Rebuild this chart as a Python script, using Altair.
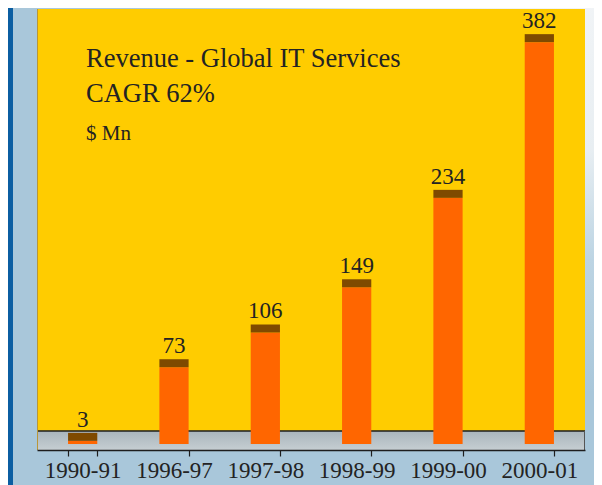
import altair as alt
import pandas as pd

# ---- data ----
periods = ["1990-91", "1996-97", "1997-98", "1998-99", "1999-00", "2000-01"]
revenue = [3, 73, 106, 149, 234, 382]
title_line1 = "Revenue - Global IT Services"
title_line2 = "CAGR 62%"
unit_label = "$ Mn"

df = pd.DataFrame({"period": periods, "revenue": revenue})
one = pd.DataFrame({"k": [0]})

W, H = 548, 441
LEFT, TOP, RIGHT, BOTTOM = 29, 1, 9, 35
FONT = "Liberation Serif"
TXT = "#232323"

x_enc = alt.X(
    "period:N",
    sort=periods,
    scale=alt.Scale(paddingInner=0.68, paddingOuter=0.34),
    axis=alt.Axis(
        title=None,
        labelAngle=0,
        tickBand="extent",
        domainColor="#1e1e1e",
        domainWidth=1.5,
        tickColor="#1e1e1e",
        tickWidth=1.2,
        tickSize=6,
        labelFont=FONT,
        labelFontSize=23,
        labelColor=TXT,
        labelPadding=3,
        zindex=1,
    ),
)
y_scale = alt.Scale(domain=[-5.7, 413.5], nice=False, zero=False)

# ---- decoration ----
sky = alt.Chart(one).mark_rect(
    fill={
        "gradient": "radial",
        "x1": 0.95, "y1": 0.0, "r1": 0.0,
        "x2": 0.95, "y2": 0.0, "r2": 0.75,
        "stops": [
            {"offset": 0.0, "color": "#f4f6f8"},
            {"offset": 0.45, "color": "#e8eef2"},
            {"offset": 0.7, "color": "#bcd4e3"},
            {"offset": 1.0, "color": "#a9c7da"},
        ],
    }
).encode(x=alt.value(-LEFT), x2=alt.value(W + RIGHT), y=alt.value(-TOP), y2=alt.value(H + BOTTOM))

stripe = alt.Chart(one).mark_rect(color="#0b5ea2").encode(
    x=alt.value(-LEFT), x2=alt.value(-LEFT + 5), y=alt.value(-TOP), y2=alt.value(H + BOTTOM)
)

yellow = alt.Chart(one).mark_rect(color="#FFCC00").encode(
    x=alt.value(0), x2=alt.value(W), y=alt.value(0), y2=alt.value(422)
)

floor = alt.Chart(one).mark_rect(
    fill={
        "gradient": "linear",
        "x1": 0, "y1": 0, "x2": 0, "y2": 1,
        "stops": [
            {"offset": 0.0, "color": "#a9b5bc"},
            {"offset": 1.0, "color": "#c6ced2"},
        ],
    }
).encode(x=alt.value(0), x2=alt.value(W), y=alt.value(422), y2=alt.value(H))

floor_line = alt.Chart(one).mark_rule(color="#1e1e1e", strokeWidth=1.5).encode(
    x=alt.value(0), x2=alt.value(W), y=alt.value(422)
)
left_edge = alt.Chart(one).mark_rule(color="#b8963a", strokeWidth=1).encode(
    x=alt.value(0.5), y=alt.value(0), y2=alt.value(H)
)
right_edge = alt.Chart(one).mark_rule(color="#555555", strokeWidth=1).encode(
    x=alt.value(W - 0.5), y=alt.value(422), y2=alt.value(H)
)

# ---- bars ----
base = alt.Chart(df).transform_calculate(cap="datum.revenue + 7.6")

bars = base.mark_bar(color="#FF6600").encode(
    x=x_enc,
    y=alt.Y("revenue:Q", scale=y_scale, axis=None),
    y2=alt.datum(0),
)
caps = base.mark_bar(color="#7F4A00").encode(
    x=x_enc,
    y=alt.Y("revenue:Q", scale=y_scale, axis=None),
    y2=alt.Y2("cap:Q"),
)
labels = base.mark_text(
    dy=-6, baseline="alphabetic", font=FONT, fontSize=23, color=TXT
).encode(
    x=x_enc,
    y=alt.Y("cap:Q", scale=y_scale, axis=None),
    text="revenue:Q",
)

# ---- titles inside the plot ----
t1 = alt.Chart(one).mark_text(
    align="left", baseline="alphabetic", font=FONT, fontSize=26.5, color=TXT
).encode(x=alt.value(49), y=alt.value(58), text=alt.value(title_line1))
t2 = alt.Chart(one).mark_text(
    align="left", baseline="alphabetic", font=FONT, fontSize=26.5, color=TXT
).encode(x=alt.value(49), y=alt.value(93), text=alt.value(title_line2))
t3 = alt.Chart(one).mark_text(
    align="left", baseline="alphabetic", font=FONT, fontSize=21, color=TXT
).encode(x=alt.value(49), y=alt.value(131), text=alt.value(unit_label))

chart = (
    alt.layer(sky, stripe, yellow, floor, floor_line, left_edge, right_edge,
              bars, caps, labels, t1, t2, t3)
    .properties(
        width=W,
        height=H,
        padding={"left": LEFT, "top": TOP, "right": RIGHT, "bottom": BOTTOM},
        autosize=alt.AutoSizeParams(type="none"),
    )
    .configure(background="#b5d0e1")
    .configure_view(stroke=None)
)

chart.save("out.html", embed_options={"renderer": "svg", "actions": False})
